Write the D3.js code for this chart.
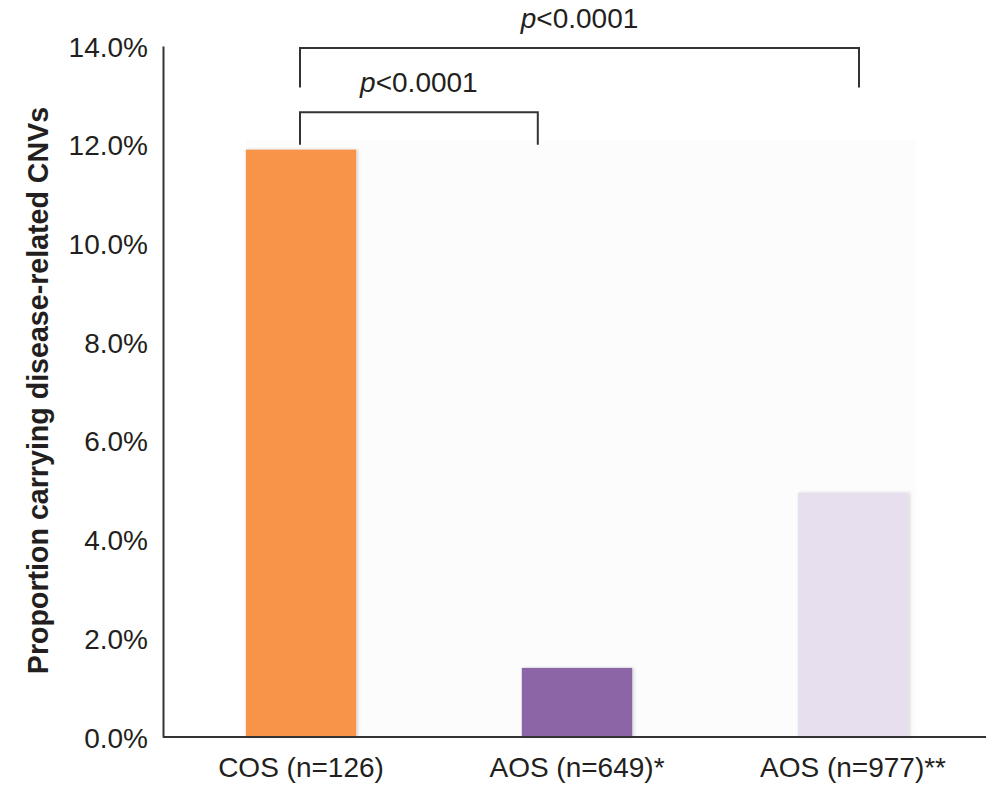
<!DOCTYPE html>
<html>
<head>
<meta charset="utf-8">
<script src="https://cdn.jsdelivr.net/npm/d3@7"></script>
<style>
  body { margin: 0; background: #fff; }
  text { font-family: "Liberation Sans", Arial, Helvetica, sans-serif; fill: #231f20; }
</style>
</head>
<body>
<svg id="chart"></svg>
<script>
// chart data
const categories = ['COS (n=126)', 'AOS (n=649)*', 'AOS (n=977)**'];
const values = [11.9, 1.4, 4.95];
const barColors = ['#f7944a', '#8b65a6', '#e7dfee'];
const yTicks = [0, 2, 4, 6, 8, 10, 12, 14];
// significance brackets: from/to category index, top level and leg end (in %)
const brackets = [
  { from: 0, to: 1, top: 12.66, leg: 12.0, label: '<0.0001' },
  { from: 0, to: 2, top: 13.96, leg: 13.16, label: '<0.0001' }
];

const width = 986, height = 785;
const margin = { top: 46, right: 0, bottom: 48, left: 163 };

const svg = d3.select('#chart')
  .attr('width', width)
  .attr('height', height);

const x = d3.scaleBand()
  .domain(categories)
  .range([margin.left, margin.left + 828])
  .paddingInner(0.6)
  .paddingOuter(0.3);

const y = d3.scaleLinear()
  .domain([0, 14])
  .range([height - margin.bottom, margin.top]);

// drop shadow for bars
const defs = svg.append('defs');
defs.append('filter')
  .attr('id', 'shadow')
  .attr('x', '-10%').attr('y', '-10%')
  .attr('width', '120%').attr('height', '120%')
  .append('feDropShadow')
  .attr('dx', 1.5).attr('dy', 0)
  .attr('stdDeviation', 1.5)
  .attr('flood-color', '#000')
  .attr('flood-opacity', 0.18);

// faint plot background
svg.append('rect')
  .attr('x', x(categories[0]))
  .attr('y', y(12.1))
  .attr('width', x(categories[2]) + x.bandwidth() + 8 - x(categories[0]))
  .attr('height', y(0) - y(12.1))
  .attr('fill', '#fcfcfc');

// bars
svg.selectAll('rect.bar')
  .data(values)
  .enter()
  .append('rect')
  .attr('class', 'bar')
  .attr('x', (d, i) => x(categories[i]))
  .attr('y', d => y(d))
  .attr('width', x.bandwidth())
  .attr('height', d => y(0) - y(d))
  .attr('fill', (d, i) => barColors[i])
  .attr('filter', 'url(#shadow)');

// y axis (line only, labels)
const yAxis = d3.axisLeft(y)
  .tickValues(yTicks)
  .tickSize(0)
  .tickPadding(15)
  .tickFormat(d => d.toFixed(1) + '%');

const gy = svg.append('g')
  .attr('transform', `translate(${margin.left},0)`)
  .call(yAxis);
gy.select('.domain').attr('stroke', '#333').attr('stroke-width', 2);
gy.selectAll('.tick text')
  .attr('font-size', 28)
  .attr('font-family', '"Liberation Sans", Arial, sans-serif')
  .attr('fill', '#231f20')
  .attr('dy', '0.36em');

// x axis
const xAxis = d3.axisBottom(x).tickSize(0).tickPadding(20);
const gx = svg.append('g')
  .attr('transform', `translate(0,${y(0)})`)
  .call(xAxis);
gx.select('.domain')
  .attr('d', `M${margin.left},0H${width}`)
  .attr('stroke', '#333').attr('stroke-width', 2);
gx.selectAll('.tick text')
  .attr('font-size', 28)
  .attr('font-family', '"Liberation Sans", Arial, sans-serif')
  .attr('fill', '#231f20');

// y title
svg.append('text')
  .attr('transform', `translate(48,${(y(0) + y(14)) / 2 - 1}) rotate(-90)`)
  .attr('text-anchor', 'middle')
  .attr('font-size', 28.6)
  .attr('font-weight', 'bold')
  .text('Proportion carrying disease-related CNVs');

// brackets
const cx = i => x(categories[i]) + x.bandwidth() / 2;
brackets.forEach(b => {
  const x0 = cx(b.from) - 1;
  const x1 = b.to === 1 ? x(categories[b.to]) + 16 : cx(b.to) + 6;
  svg.append('path')
    .attr('d', `M${x0},${y(b.leg)}V${y(b.top)}H${x1}V${y(b.leg)}`)
    .attr('fill', 'none')
    .attr('stroke', '#333')
    .attr('stroke-width', 2);
  const t = svg.append('text')
    .attr('x', (x0 + x1) / 2)
    .attr('y', y(b.top) - 20)
    .attr('text-anchor', 'middle')
    .attr('font-size', 28);
  t.append('tspan').attr('font-style', 'italic').text('p');
  t.append('tspan').text(b.label);
});
</script>
</body>
</html>
